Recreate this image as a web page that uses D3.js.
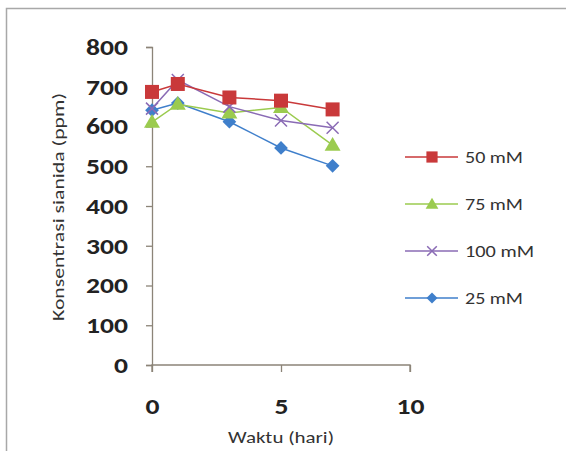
<!DOCTYPE html>
<html>
<head>
<meta charset="utf-8">
<script src="https://cdn.jsdelivr.net/npm/d3@7"></script>
<style>
  html, body { margin: 0; padding: 0; background: #fff; }
  svg { display: block; }
</style>
</head>
<body>
<svg id="chart" width="566" height="451"></svg>
<script>
// Sampling days
const days = [0, 1, 3, 5, 7];

// Cyanide concentration (ppm) per treatment
const series50 = [687, 707, 673, 665, 643];
const series75 = [611, 656, 634, 648, 553];
const series100 = [645, 717, 650, 615, 597];
const series25 = [641, 659, 612, 546, 501];

const seriesNames = ["50 mM", "75 mM", "100 mM", "25 mM"];
const seriesColors = ["#C9393A", "#9BCB4F", "#8A6BB5", "#3F7FCB"];
const seriesShapes = ["square", "triangle", "cross", "diamond"];

const yTicks = [0, 100, 200, 300, 400, 500, 600, 700, 800];
const xTicks = [0, 5, 10];

const FONT = "Carlito, Calibri, Lato, 'Liberation Sans', sans-serif";
const svg = d3.select("#chart");

// Frame around the chart area
svg.append("rect")
  .attr("x", 6.5).attr("y", 8.5)
  .attr("width", 570).attr("height", 460)
  .attr("fill", "#fff")
  .attr("stroke", "#a8a8a8").attr("stroke-width", 1.5);

const x = d3.scaleLinear().domain([0, 10]).range([152, 410]);
const y = d3.scaleLinear().domain([0, 800]).range([365, 47]);

// Axes
const yAxis = d3.axisLeft(y).tickValues(yTicks).tickSize(6).tickPadding(18);
const gy = svg.append("g").attr("transform", "translate(152,0)").call(yAxis);
const xAxis = d3.axisBottom(x).tickValues(xTicks).tickSize(7).tickPadding(26);
const gx = svg.append("g").attr("transform", "translate(0,365)").call(xAxis);

[gy, gx].forEach(g => {
  g.select(".domain").attr("stroke", "#8c8478").attr("stroke-width", 1.3);
  g.selectAll(".tick line").attr("stroke", "#8c8478").attr("stroke-width", 1.3);
  g.selectAll(".tick text")
    .attr("font-family", FONT)
    .attr("font-weight", "bold")
    .attr("font-size", 23)
    .attr("fill", "#222")
    .attr("textLength", d => String(d).length * 14)
    .attr("lengthAdjust", "spacingAndGlyphs");
});
gx.select(".domain").attr("d", "M152,7V0H410V7");

// Axis titles
svg.append("text")
  .attr("x", 281).attr("y", 443)
  .attr("text-anchor", "middle")
  .attr("font-family", FONT)
  .attr("font-size", 16).attr("fill", "#333")
  .attr("textLength", 106).attr("lengthAdjust", "spacingAndGlyphs")
  .text("Waktu (hari)");

svg.append("text")
  .attr("transform", "translate(64,207) rotate(-90)")
  .attr("text-anchor", "middle")
  .attr("font-family", FONT)
  .attr("font-size", 17).attr("fill", "#333")
  .attr("textLength", 228).attr("lengthAdjust", "spacingAndGlyphs")
  .text("Konsentrasi sianida  (ppm)");

const allSeries = [series50, series75, series100, series25];

function drawMarker(g, shape, color, cx, cy, s) {
  if (shape === "square") {
    g.append("rect").attr("x", cx - 7 * s).attr("y", cy - 7 * s)
      .attr("width", 14 * s).attr("height", 14 * s).attr("fill", color);
  } else if (shape === "triangle") {
    g.append("path").attr("d", d3.symbol(d3.symbolTriangle, 110 * s * s)())
      .attr("transform", `translate(${cx},${cy + 1})`).attr("fill", color);
  } else if (shape === "cross") {
    const r = 6 * s;
    g.append("path")
      .attr("d", `M${cx - r},${cy - r}L${cx + r},${cy + r}M${cx - r},${cy + r}L${cx + r},${cy - r}`)
      .attr("stroke", color).attr("stroke-width", 1.5).attr("fill", "none");
  } else {
    g.append("path").attr("d", d3.symbol(d3.symbolDiamond2, 120 * s * s)())
      .attr("transform", `translate(${cx},${cy})`).attr("fill", color);
  }
}

const line = d3.line().x(d => x(d[0])).y(d => y(d[1]));

// Draw series in back-to-front order
const order = [3, 1, 2, 0];
order.forEach(i => {
  const pts = days.map((d, j) => [d, allSeries[i][j]]);
  const g = svg.append("g");
  g.append("path").attr("d", line(pts))
    .attr("fill", "none").attr("stroke", seriesColors[i]).attr("stroke-width", 1.5);
  pts.forEach(p => drawMarker(g, seriesShapes[i], seriesColors[i], x(p[0]), y(p[1]), 1));
});

// Legend
const legendY = [157, 204, 251, 298];
const legendLen = [58, 58, 69, 58];
seriesNames.forEach((name, i) => {
  const g = svg.append("g");
  g.append("line").attr("x1", 405).attr("x2", 458)
    .attr("y1", legendY[i]).attr("y2", legendY[i])
    .attr("stroke", seriesColors[i]).attr("stroke-width", 1.5);
  drawMarker(g, seriesShapes[i], seriesColors[i], 432, legendY[i], 0.8);
  g.append("text").attr("x", 465).attr("y", legendY[i] + 6)
    .attr("font-family", FONT)
    .attr("font-size", 17).attr("fill", "#333")
    .attr("textLength", legendLen[i]).attr("lengthAdjust", "spacingAndGlyphs")
    .text(name);
});
</script>
</body>
</html>
